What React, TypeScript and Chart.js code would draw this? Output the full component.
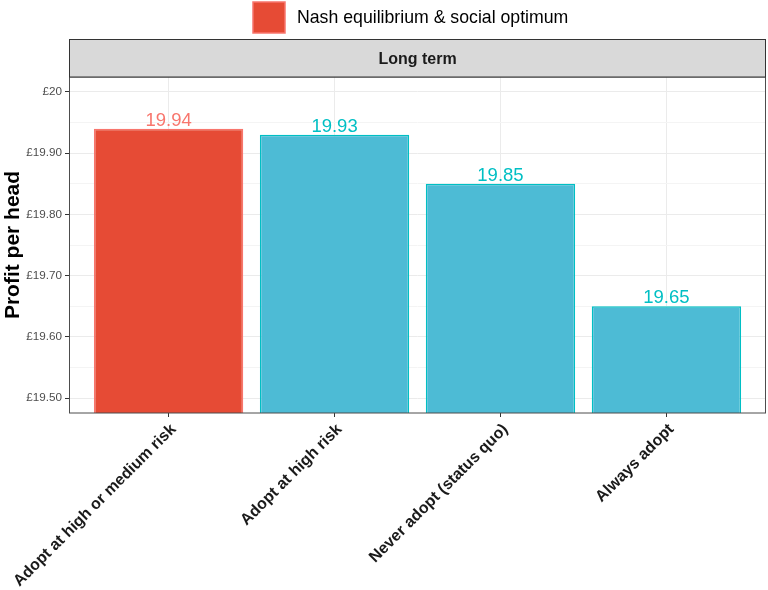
import React, { useEffect, useRef } from "react";
import { Chart, registerables } from "chart.js";

Chart.register(...registerables);

const CATEGORIES = [
  "Adopt at high or medium risk",
  "Adopt at high risk",
  "Never adopt (status quo)",
  "Always adopt",
];
const PROFIT = [19.94, 19.93, 19.85, 19.65];
const IS_NASH = [true, false, false, false];
const Y_MAJOR = [19.5, 19.6, 19.7, 19.8, 19.9, 20.0];
const Y_MINOR = [19.55, 19.65, 19.75, 19.85, 19.95];
const LEGEND_LABEL = "Nash equilibrium & social optimum";
const STRIP_LABEL = "Long term";
const Y_TITLE = "Profit per head";

const FONT = "'Liberation Sans', Arial, Helvetica, sans-serif";
const RED_FILL = "#E64B35";
const RED_LINE = "#F8766D";
const BLUE_FILL = "#4DBBD5";
const BLUE_LINE = "#00BFC4";

const round2 = (v: number) => Math.round(v * 100) / 100;
const isMajor = (v: number) => Y_MAJOR.some((m) => Math.abs(m - v) < 1e-6);
const fmtY = (v: number) => {
  const r = round2(v);
  return Number.isInteger(r) ? "£" + r : "£" + r.toFixed(2);
};

const decorPlugin = {
  id: "decor",
  afterDatasetsDraw(chart: any) {
    const { ctx } = chart;
    const meta = chart.getDatasetMeta(0);
    ctx.save();
    ctx.font = `18.5px ${FONT}`;
    ctx.textAlign = "center";
    ctx.textBaseline = "alphabetic";
    meta.data.forEach((bar: any, i: number) => {
      ctx.fillStyle = IS_NASH[i] ? RED_LINE : BLUE_LINE;
      ctx.fillText(PROFIT[i].toFixed(2), bar.x, bar.y - 3);
    });
    ctx.restore();
  },
  afterDraw(chart: any) {
    const { ctx, chartArea } = chart;
    const { left, right, top, bottom } = chartArea;
    ctx.save();
    // panel border
    ctx.strokeStyle = "#4d4d4d";
    ctx.lineWidth = 1;
    ctx.strokeRect(left + 0.5, top, right - left - 1, bottom - top);
    // strip
    const sTop = 39.5;
    ctx.fillStyle = "#d9d9d9";
    ctx.fillRect(left, sTop, right - left, top - sTop);
    ctx.strokeStyle = "#333333";
    ctx.lineWidth = 1;
    ctx.strokeRect(left + 0.5, sTop, right - left - 1, top - sTop);
    ctx.fillStyle = "#1a1a1a";
    ctx.font = `bold 16px ${FONT}`;
    ctx.textAlign = "center";
    ctx.textBaseline = "middle";
    ctx.fillText(STRIP_LABEL, (left + right) / 2, (sTop + top) / 2 + 1);
    // legend
    ctx.fillStyle = RED_FILL;
    ctx.fillRect(253, 2, 32, 31);
    ctx.strokeStyle = RED_LINE;
    ctx.lineWidth = 1.5;
    ctx.strokeRect(253, 2, 32, 31);
    ctx.fillStyle = "#000000";
    ctx.font = `17.7px ${FONT}`;
    ctx.textAlign = "left";
    ctx.textBaseline = "middle";
    ctx.fillText(LEGEND_LABEL, 297, 18);
    ctx.restore();
  },
};

export default function App() {
  const ref = useRef<HTMLCanvasElement | null>(null);
  useEffect(() => {
    if (!ref.current) return;
    Chart.defaults.font.family = FONT;
    const chart = new Chart(ref.current, {
      type: "bar",
      data: {
        datasets: [
          {
            label: LEGEND_LABEL,
            data: PROFIT.map((v, i) => ({ x: i, y: v })),
            backgroundColor: IS_NASH.map((n) => (n ? RED_FILL : BLUE_FILL)),
            borderColor: IS_NASH.map((n) => (n ? RED_LINE : BLUE_LINE)),
            borderWidth: 1.5,
            borderSkipped: "start",
            barPercentage: 0.9,
            categoryPercentage: 1,
          },
        ],
      },
      options: {
        responsive: false,
        animation: false,
        devicePixelRatio: 1,
        layout: { padding: { top: 77, right: 2, left: 0, bottom: 0 } },
        plugins: {
          legend: { display: false },
          tooltip: { enabled: false },
        },
        scales: {
          x: {
            type: "linear",
            min: -0.6,
            max: 3.6,
            offset: false,
            afterBuildTicks: (scale: any) => {
              scale.ticks = CATEGORIES.map((_, i) => ({ value: i }));
            },
            afterFit: (scale: any) => {
              scale.height = 177;
              scale.paddingLeft = 0;
              scale.paddingRight = 0;
            },
            border: { display: false },
            grid: {
              offset: false,
              color: "#ebebeb",
              lineWidth: 1,
              drawTicks: true,
              tickLength: 4,
              tickColor: "#333333",
            },
            ticks: {
              autoSkip: false,
              minRotation: 45,
              maxRotation: 45,
              padding: 3,
              labelOffset: 5,
              color: "#1a1a1a",
              font: { size: 16, weight: "bold" },
              callback: (v: any) => CATEGORIES[Math.round(Number(v))] ?? "",
            },
          },
          y: {
            type: "linear",
            min: 19.4755,
            max: 20.0245,
            afterBuildTicks: (scale: any) => {
              scale.ticks = [...Y_MAJOR, ...Y_MINOR]
                .sort((a, b) => a - b)
                .map((v) => ({ value: v }));
            },
            afterFit: (scale: any) => {
              scale.width = 69;
              scale.paddingTop = 0;
              scale.paddingBottom = 0;
            },
            border: { display: false },
            grid: {
              color: (c: any) => (isMajor(c.tick.value) ? "#ebebeb" : "#f4f4f4"),
              lineWidth: 1,
              drawTicks: true,
              tickLength: 4,
              tickColor: (c: any) =>
                isMajor(c.tick.value) ? "#333333" : "rgba(0,0,0,0)",
            },
            ticks: {
              autoSkip: false,
              padding: 3,
              color: "#4d4d4d",
              font: { size: 11.7 },
              callback: (v: any) => (isMajor(Number(v)) ? fmtY(Number(v)) : ""),
            },
            title: {
              display: true,
              text: Y_TITLE,
              color: "#000000",
              font: { size: 21, weight: "bold" },
              padding: { top: 1, bottom: 0 },
            },
          },
        },
      },
      plugins: [decorPlugin],
    } as any);
    return () => chart.destroy();
  }, []);
  return (
    <div style={{ position: "fixed", left: 0, top: 0, width: 768, height: 590, background: "#fff" }}>
      <canvas ref={ref} width={768} height={590} />
    </div>
  );
}
